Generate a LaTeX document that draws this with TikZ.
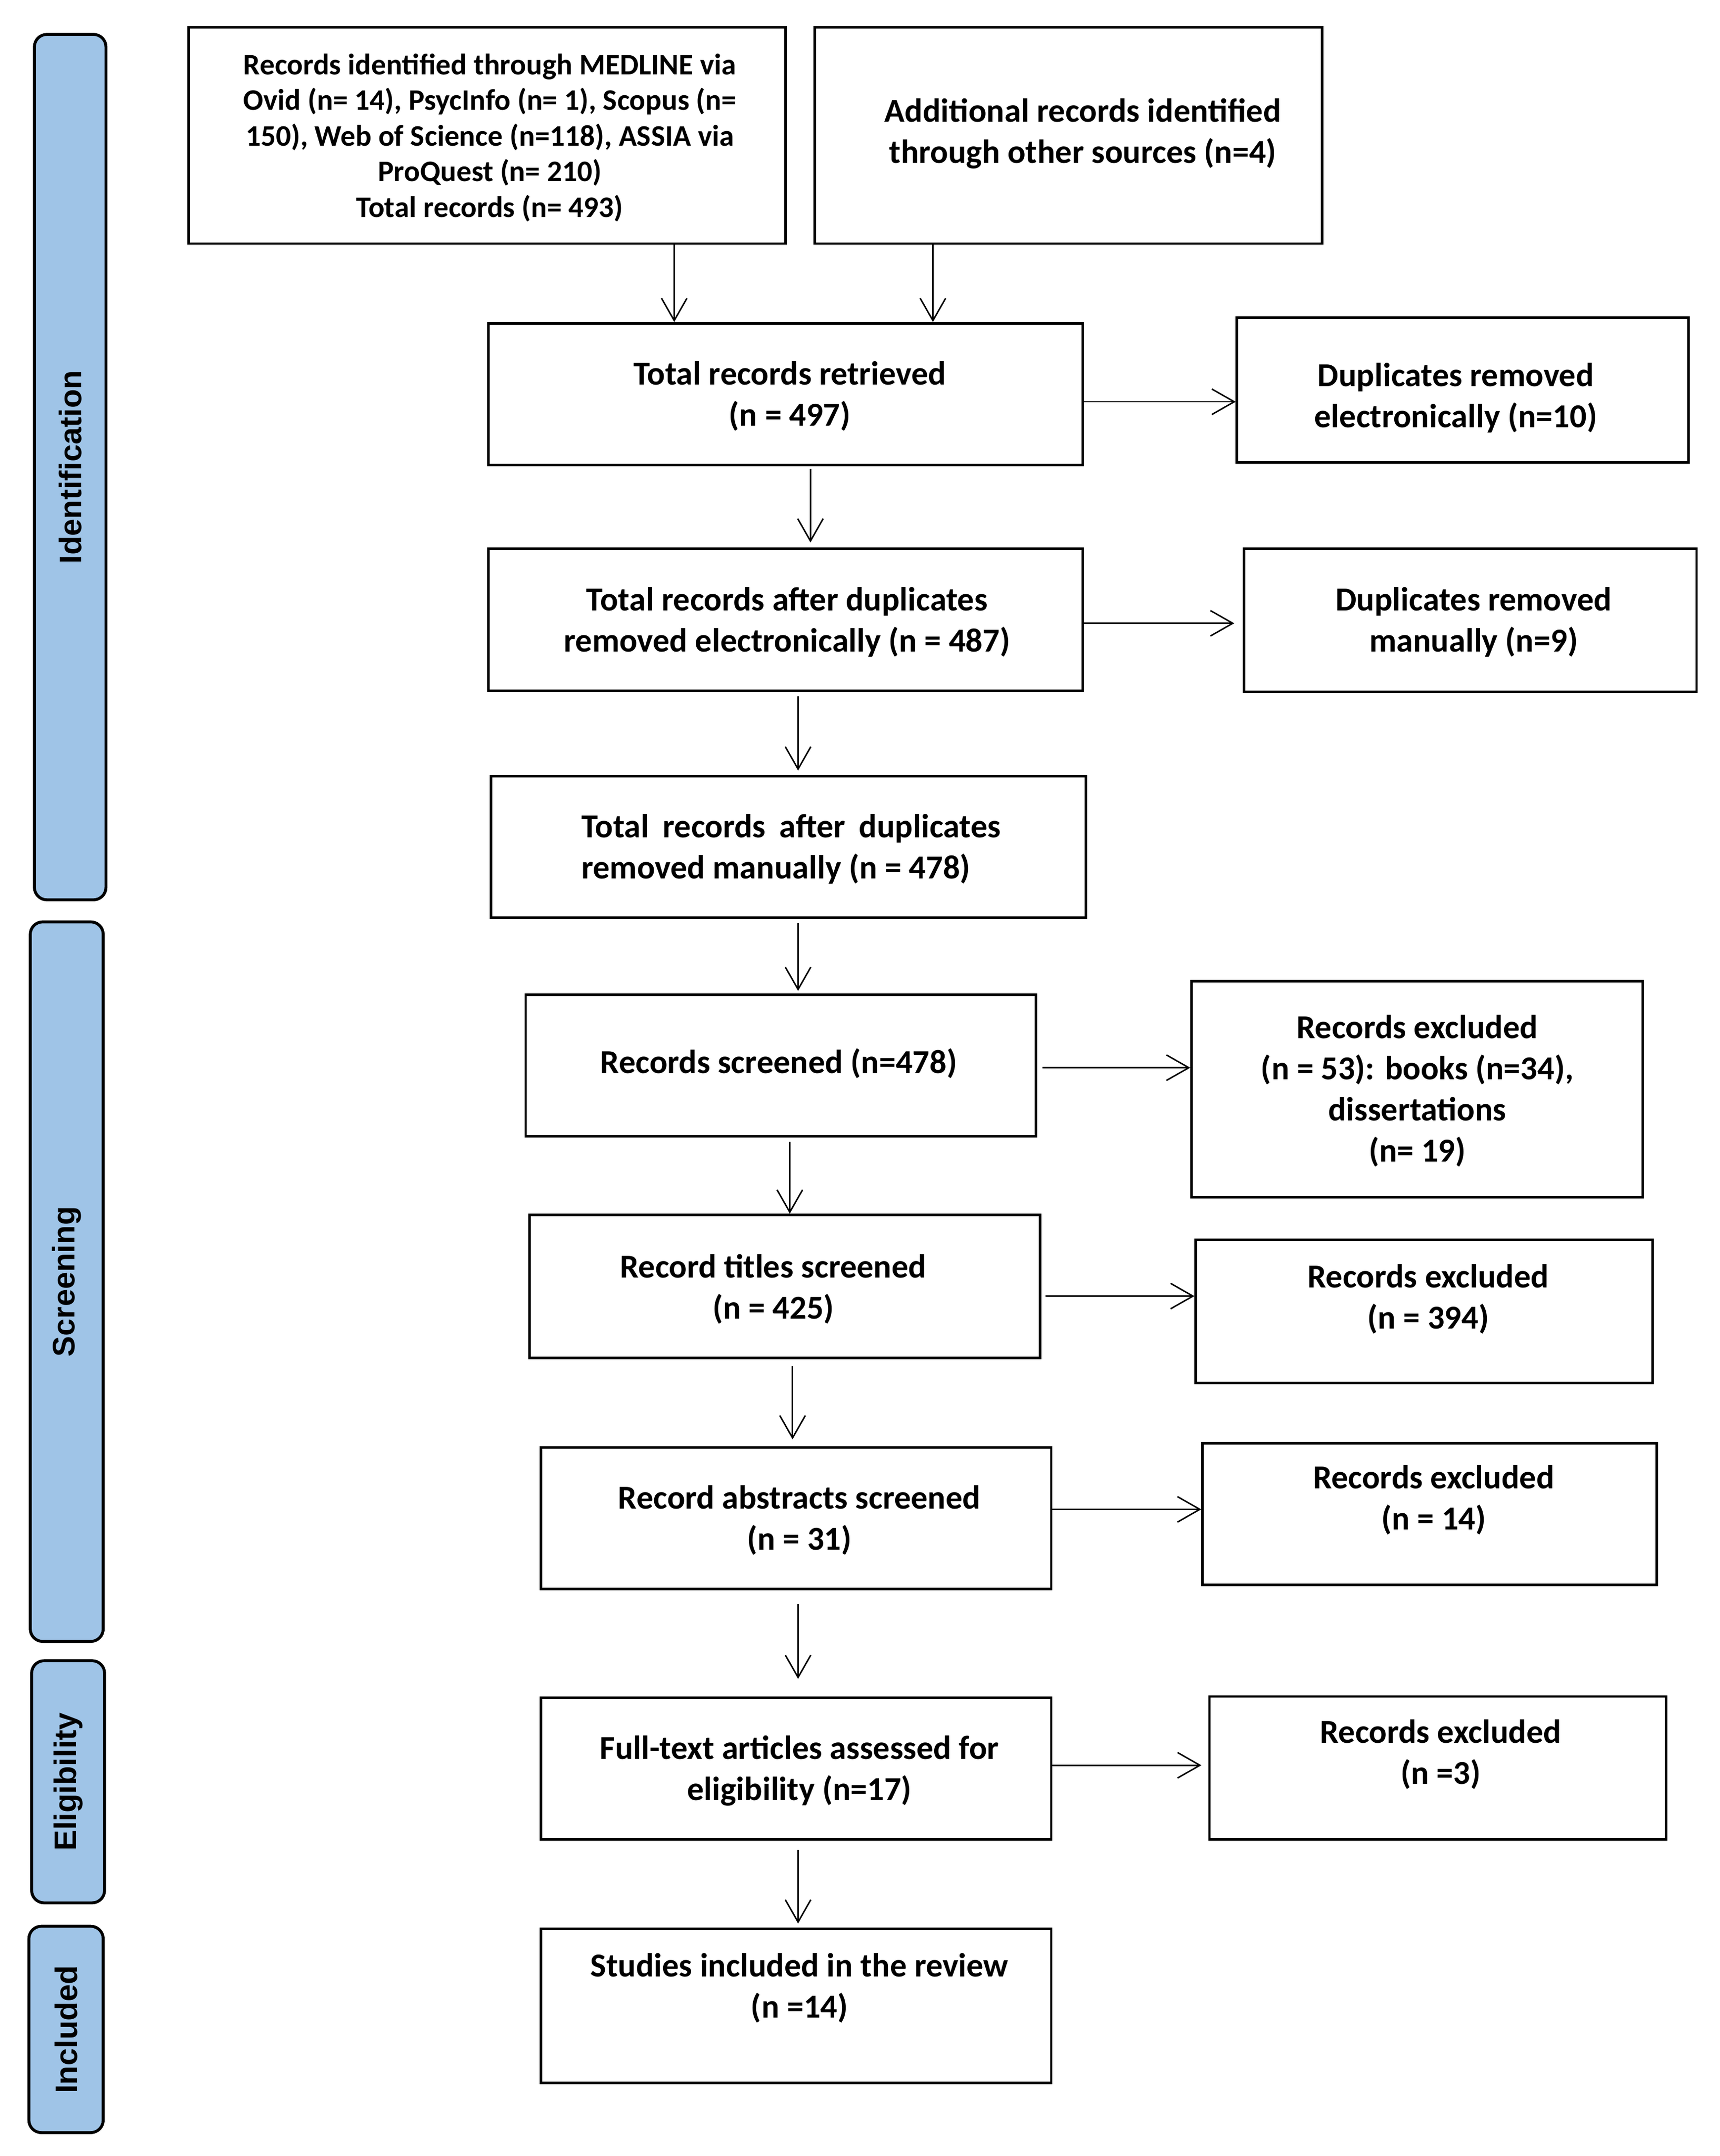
\documentclass[tikz,border=0pt]{standalone}
\usepackage{fontspec}
\setmainfont{Carlito}
\newfontfamily\sidefont{Liberation Sans}
\usetikzlibrary{arrows.meta}
\definecolor{sideblue}{HTML}{9FC4E7}
\newcommand\bx[5]{\node[box, minimum width={(#4-#2)*0.02644cm}, minimum height={(#5-#3)*0.02644cm}] (#1) at ({(#2+#4)/2},{(#3+#5)/2}) {};}
\newcommand\sidebx[6]{\node[side, minimum width={(#4-#2)*0.02644cm}, minimum height={(#5-#3)*0.02644cm}] (#1) at ({(#2+#4)/2},{(#3+#5)/2}) {\rotatebox{90}{\sidefont\fontsize{17}{20}\selectfont\bfseries #6}};}
\begin{document}
\begin{tikzpicture}[x=0.02644cm,y=-0.02644cm,
 box/.style={draw=black, line width=1.4pt, inner sep=0pt},
 txt/.style={font=\fontsize{18.3}{22.5}\selectfont\bfseries, align=center, inner sep=0pt},
 txtA/.style={font=\fontsize{16.3}{19.5}\selectfont\bfseries, align=center, inner sep=0pt},
 side/.style={draw=black, line width=1.6pt, fill=sideblue, rounded corners=0.24cm, inner sep=0pt},
 arr/.style={line width=0.8pt, -{Straight Barb[length=4.3mm,width=4.9mm,line width=0.8pt]}}
]
\useasboundingbox (0,0) rectangle (1250,1567);
% phase labels
\sidebx{sid}{25}{25}{77}{654}{Identification}
\sidebx{sscr}{22}{670}{75}{1193}{Screening}
\sidebx{selig}{23}{1207}{76}{1383}{Eligibility}
\sidebx{sinc}{21}{1400}{75}{1550}{Included}
% boxes
\bx{b1}{137}{20}{571}{177}
\bx{b2}{592}{20}{961}{177}
\bx{b3}{355}{235}{787}{338}
\bx{b4}{899}{231}{1227}{336}
\bx{b5}{355}{399}{787}{502}
\bx{b6}{904}{399}{1233}{503}
\bx{b7}{357}{564}{789}{667}
\bx{b8}{382}{723}{753}{826}
\bx{b9}{866}{713}{1194}{870}
\bx{b10}{385}{883}{756}{987}
\bx{b11}{869}{901}{1201}{1005}
\bx{b12}{393}{1052}{764}{1155}
\bx{b13}{874}{1049}{1204}{1152}
\bx{b14}{393}{1234}{764}{1337}
\bx{b15}{879}{1233}{1211}{1337}
\bx{b16}{393}{1402}{764}{1514}
% texts
\node[txtA] (t1) at (356,100) {Records identified through MEDLINE via\\Ovid (n= 14), PsycInfo (n= 1), Scopus (n=\\150), Web of Science (n=118), ASSIA via\\ProQuest (n= 210)\\Total records (n= 493)};
\node[txt] (t2) at (787,97) {Additional records identified\\through other sources (n=4)};
\node[txt] (t3) at (574,288) {Total records retrieved\\(n = 497)};
\node[txt] (t4) at (1058,289) {Duplicates removed\\electronically (n=10)};
\node[txt] (t5) at (572,452) {Total records after duplicates\\removed electronically (n = 487)};
\node[txt] (t6) at (1071,452) {Duplicates removed\\manually (n=9)};
\node[txt, align=left] (t7) at (575,617) {\makebox[8.06cm][s]{Total records after duplicates}\\removed manually (n = 478)};
\node[txt] (t8) at (566,773) {Records screened (n=478)};
\node[txt] (t9) at (1030,793) {Records excluded\\(n = 53): books (n=34),\\dissertations\\(n= 19)};
\node[txt] (t10) at (562,937) {Record titles screened\\(n = 425)};
\node[txt] (t11) at (1038,944) {Records excluded\\(n = 394)};
\node[txt] (t12) at (581,1105) {Record abstracts screened\\(n = 31)};
\node[txt] (t13) at (1042,1090) {Records excluded\\(n = 14)};
\node[txt] (t14) at (581,1287) {Full-text articles assessed for\\eligibility (n=17)};
\node[txt] (t15) at (1047,1275) {Records excluded\\(n =3)};
\node[txt] (t16) at (581,1445) {Studies included in the review\\(n =14)};
% connectors
\draw[arr] (b1.south -| 490,0) -- (b3.north -| 490,0);
\draw[arr] (b2.south -| 678,0) -- (b3.north -| 678,0);
\draw[arr] (b3.east |- 0,292) -- (b4.west |- 0,292);
\draw[arr, shorten <=0.05cm, shorten >=0.1cm] (b3.south -| 589,0) -- (b5.north -| 589,0);
\draw[arr, shorten >=0.16cm] (b5.east |- 0,453) -- (b6.west |- 0,453);
\draw[arr, shorten <=0.08cm, shorten >=0.08cm] (b5.south -| 580,0) -- (b7.north -| 580,0);
\draw[arr, shorten <=0.08cm, shorten >=0.05cm] (b7.south -| 580,0) -- (b8.north -| 580,0);
\draw[arr, shorten <=0.1cm] (b8.east |- 0,776) -- (b9.west |- 0,776);
\draw[arr, shorten <=0.08cm] (b8.south -| 574,0) -- (b10.north -| 574,0);
\draw[arr, shorten <=0.08cm] (b10.east |- 0,942) -- (b11.west |- 0,942);
\draw[arr, shorten <=0.13cm, shorten >=0.13cm] (b10.south -| 576,0) -- (b12.north -| 576,0);
\draw[arr] (b12.east |- 0,1097) -- (b13.west |- 0,1097);
\draw[arr, shorten <=0.26cm, shorten >=0.34cm] (b12.south -| 580,0) -- (b14.north -| 580,0);
\draw[arr, shorten >=0.13cm] (b14.east |- 0,1283) -- (b15.west |- 0,1283);
\draw[arr, shorten <=0.18cm, shorten >=0.08cm] (b14.south -| 580,0) -- (b16.north -| 580,0);
\end{tikzpicture}
\end{document}
